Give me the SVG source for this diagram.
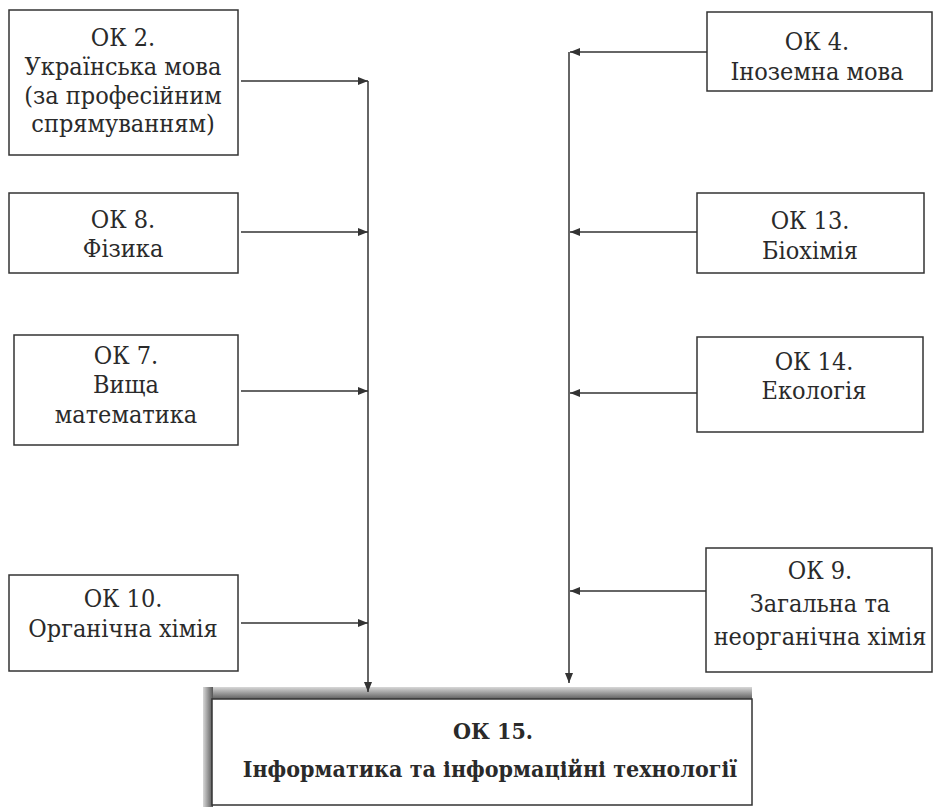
<svg xmlns="http://www.w3.org/2000/svg" width="936" height="807" viewBox="0 0 936 807">
<style>
.box{fill:#fff;stroke:#333;stroke-width:1.5}
.t{font-family:'DejaVu Serif Condensed','DejaVu Serif',serif;font-stretch:condensed;font-size:25px;fill:#2a2a2a;text-anchor:middle}
.tb{font-family:'DejaVu Serif Condensed','DejaVu Serif',serif;font-stretch:condensed;font-size:23px;font-weight:bold;fill:#2a2a2a;text-anchor:middle}
.c{fill:none;stroke:#333;stroke-width:1.5}
</style>
<defs>
<marker id="ah" viewBox="0 0 10 8" refX="10" refY="4" markerWidth="10" markerHeight="8" markerUnits="userSpaceOnUse" orient="auto">
<path d="M0,0 L10,4 L0,8 Z" fill="#333"/>
</marker>
<linearGradient id="shT" x1="0" y1="0" x2="0" y2="1">
<stop offset="0" stop-color="#d8d8d8"/><stop offset="1" stop-color="#555"/>
</linearGradient>
<linearGradient id="shL" x1="0" y1="0" x2="1" y2="0">
<stop offset="0" stop-color="#d8d8d8"/><stop offset="1" stop-color="#555"/>
</linearGradient>
</defs>
<rect width="936" height="807" fill="#fff"/>

<g id="ok2">
<rect class="box" x="9" y="10" width="229" height="145"/>
<text class="t" x="123" y="46">ОК 2.</text>
<text class="t" x="123" y="75">Українська мова</text>
<text class="t" x="123" y="104">(за професійним</text>
<text class="t" x="123" y="132">спрямуванням)</text>
</g>
<g id="ok8">
<rect class="box" x="9" y="193" width="229" height="80"/>
<text class="t" x="123" y="228">ОК 8.</text>
<text class="t" x="123" y="257">Фізика</text>
</g>
<g id="ok7">
<rect class="box" x="14" y="335" width="224" height="110"/>
<text class="t" x="126" y="364">ОК 7.</text>
<text class="t" x="126" y="393">Вища</text>
<text class="t" x="126" y="423">математика</text>
</g>
<g id="ok10">
<rect class="box" x="9" y="575" width="229" height="96"/>
<text class="t" x="123" y="607">ОК 10.</text>
<text class="t" x="123" y="637">Органічна хімія</text>
</g>
<g id="ok4">
<rect class="box" x="707" y="12" width="225" height="79"/>
<text class="t" x="817" y="50">ОК 4.</text>
<text class="t" x="817" y="80">Іноземна мова</text>
</g>
<g id="ok13">
<rect class="box" x="697" y="193" width="227" height="80"/>
<text class="t" x="810" y="229">ОК 13.</text>
<text class="t" x="810" y="259">Біохімія</text>
</g>
<g id="ok14">
<rect class="box" x="697" y="337" width="226" height="95"/>
<text class="t" x="814" y="370">ОК 14.</text>
<text class="t" x="814" y="399">Екологія</text>
</g>
<g id="ok9">
<rect class="box" x="706" y="548" width="226" height="124"/>
<text class="t" x="820" y="579">ОК 9.</text>
<text class="t" x="820" y="612">Загальна та</text>
<text class="t" x="820" y="645">неорганічна хімія</text>
</g>
<g id="ok15">
<rect x="203" y="687" width="549" height="13" fill="url(#shT)"/>
<rect x="203" y="687" width="10" height="120" fill="url(#shL)"/>
<rect x="212" y="699" width="540" height="106" fill="#fff" stroke="#333" stroke-width="1.5"/>
<text class="tb" x="493" y="739">ОК 15.</text>
<text class="tb" x="490" y="777">Інформатика та інформаційні технології</text>
</g>

<g id="connectors">
<line class="c" x1="241" y1="81" x2="368" y2="81" marker-end="url(#ah)"/>
<line class="c" x1="241" y1="232" x2="368" y2="232" marker-end="url(#ah)"/>
<line class="c" x1="241" y1="391" x2="368" y2="391" marker-end="url(#ah)"/>
<line class="c" x1="241" y1="623" x2="368" y2="623" marker-end="url(#ah)"/>
<line class="c" x1="368" y1="81" x2="368" y2="692" marker-end="url(#ah)"/>
<line class="c" x1="707" y1="52" x2="570" y2="52" marker-end="url(#ah)"/>
<line class="c" x1="697" y1="232" x2="570" y2="232" marker-end="url(#ah)"/>
<line class="c" x1="697" y1="393" x2="570" y2="393" marker-end="url(#ah)"/>
<line class="c" x1="706" y1="591" x2="570" y2="591" marker-end="url(#ah)"/>
<line class="c" x1="569" y1="52" x2="569" y2="683" marker-end="url(#ah)"/>
</g>
</svg>
